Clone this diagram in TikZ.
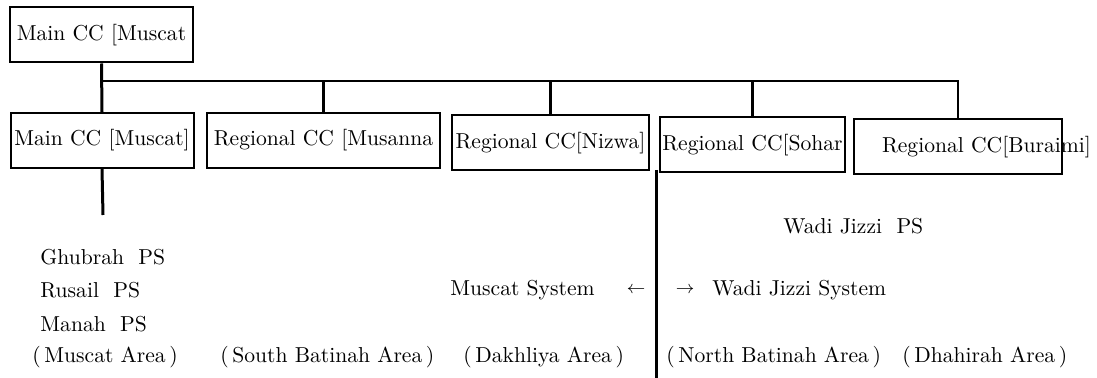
\documentclass[tikz,border=0pt]{standalone}
\usepackage{tikz}
\usetikzlibrary{calc}

\tikzset{
  ccbox/.style={draw, line width=1pt, inner sep=1pt, minimum height=27.5pt},
  link/.style={line width=1.5pt},
  busline/.style={line width=1pt},
  lbl/.style={anchor=west, inner sep=0pt},
}

\begin{document}
\begin{tikzpicture}[x=0.5pt, y=-0.5pt, font=\fontsize{10.8}{13}\selectfont]
  \useasboundingbox (0,0) rectangle (1097,378);

  % Unit sizes are pixels of the original sheet
  \def\areay{357}   % row of area labels
  \def\sysy{290}    % row of system labels

  % Top control centre
  \node[ccbox, minimum width=91.5pt] (top) at (101.5,35) {Main CC [Muscat};

  % Second row of control centres
  \node[ccbox, minimum width=91.5pt] (main) at (102,140.5) {Main CC [Muscat]};
  \node[ccbox, minimum width=116.5pt] (musn) at (323.5,140.5) {Regional CC [Musanna};
  \node[ccbox, minimum width=98.5pt] (nizw) at (550.5,143) {Regional CC[Nizwa]};
  \node[ccbox, minimum width=91.5pt] (sohr) at (752.5,145) {Regional CC[Sohar};
  \node[ccbox, minimum width=104pt] (brmi) at (958,147)
    {\makebox[102pt][l]{\hspace{13pt}Regional CC[Buraimi]}};

  % Feeders and bus
  \coordinate (bus) at (103,81);
  \draw[link] (top.south) -- (main.north);
  \draw[busline] (bus) -| (brmi.north);
  \foreach \n in {musn, nizw, sohr} {
    \draw[link] (\n.north) -- (\n.north |- bus);
  }

  % Stub under Muscat and system split
  \coordinate (mainEnd) at (103,215);
  \draw[link] (main.south) -- (mainEnd);
  \coordinate (splitTop) at (656,170);
  \coordinate (splitBot) at (656,378);
  \draw[link] (splitTop) -- (splitBot);

  % Power stations
  \node[lbl] (ghub) at (40,257) {Ghubrah\ \ PS};
  \node[lbl] (rusl) at (40,290) {Rusail\ \ PS};
  \node[lbl] (mnah) at (40,324) {Manah\ \ PS};
  \node[lbl] (wjps) at (783,226) {Wadi Jizzi\ \ PS};

  % Systems either side of the split
  \node[lbl] (mussys) at (450,\sysy) {Muscat System};
  \node (larr) at (636,\sysy) {\small$\leftarrow$};
  \node (rarr) at (685,\sysy) {\small$\rightarrow$};
  \node[lbl] (wjsys) at (712,\sysy) {Wadi Jizzi System};

  % Areas
  \node[lbl] (amus) at (32,\areay) {(\,Muscat Area\,)};
  \node[lbl] (asba) at (220,\areay) {(\,South Batinah Area\,)};
  \node[lbl] (adak) at (463,\areay) {(\,Dakhliya Area\,)};
  \node[lbl] (anba) at (666,\areay) {(\,North Batinah Area\,)};
  \node[lbl] (adha) at (902,\areay) {(\,Dhahirah Area\,)};

\end{tikzpicture}
\end{document}
